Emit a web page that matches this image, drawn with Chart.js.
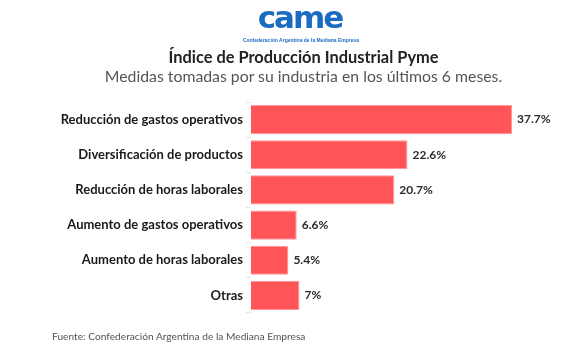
<!DOCTYPE html>
<html>
<head>
<meta charset="utf-8">
<script src="https://cdn.jsdelivr.net/npm/chart.js@4.4.0/dist/chart.umd.min.js"></script>
<style>
  html, body { margin: 0; padding: 0; background: #fff; }
  #wrap { position: relative; width: 587px; height: 356px; }
  #logo { position: absolute; left: 0; width: 600px; top: -2px; text-align: center;
          font-family: "DejaVu Sans", sans-serif; font-weight: bold; font-size: 31px;
          color: #1b6cc1; letter-spacing: -2px; line-height: 38px; }
  #logoSub { position: absolute; left: 0; width: 602px; top: 37px; text-align: center;
          font-family: "Liberation Sans", sans-serif; font-weight: bold; font-size: 5px; color: #1b6cc1; }
  .t { position: absolute; left: 0; width: 607px; text-align: center; font-family: Lato, sans-serif; white-space: nowrap; }
  #title { top: 47px; font-size: 16.4px; font-weight: bold; color: #222; line-height: 20px; }
  #subtitle { top: 66px; font-size: 15.8px; color: #555; line-height: 20px; }
  #foot { position: absolute; left: 52px; top: 330px; font-family: Lato, sans-serif;
          font-size: 10.2px; color: #555; }
  canvas { position: absolute; left: 0; top: 0; }
</style>
</head>
<body>
<div id="wrap">
  <canvas id="c" width="587" height="356"></canvas>
  <div id="logo">came</div>
  <div id="logoSub">Confederación Argentina de la Mediana Empresa</div>
  <div class="t" id="title">Índice de Producción Industrial Pyme</div>
  <div class="t" id="subtitle">Medidas tomadas por su industria en los últimos 6 meses.</div>
  <div id="foot">Fuente: Confederación Argentina de la Mediana Empresa</div>
</div>
<script>
const categories = [
  "Reducción de gastos operativos",
  "Diversificación de productos",
  "Reducción de horas laborales",
  "Aumento de gastos operativos",
  "Aumento de horas laborales",
  "Otras"
];
const values = [37.7, 22.6, 20.7, 6.6, 5.4, 7];
const valueLabels = ["37.7%", "22.6%", "20.7%", "6.6%", "5.4%", "7%"];

const valueLabelPlugin = {
  id: 'valueLabels',
  afterDatasetsDraw(chart) {
    const ctx = chart.ctx;
    const meta = chart.getDatasetMeta(0);
    ctx.save();
    ctx.font = "bold 12px Lato, sans-serif";
    ctx.fillStyle = "#2a2a2a";
    ctx.textAlign = "left";
    ctx.textBaseline = "middle";
    meta.data.forEach((bar, i) => {
      ctx.fillText(valueLabels[i], bar.x + 5, bar.y);
    });
    ctx.restore();
  }
};

new Chart(document.getElementById('c'), {
  type: 'bar',
  data: {
    labels: categories,
    datasets: [{
      data: values,
      backgroundColor: 'rgb(255,85,88)',
      borderColor: 'rgb(255,150,152)',
      borderWidth: 1,
      categoryPercentage: 1,
      barPercentage: 0.83
    }]
  },
  options: {
    indexAxis: 'y',
    responsive: false,
    animation: false,
    layout: { padding: { top: 102, right: 59, bottom: 43, left: 0 } },
    plugins: {
      legend: { display: false },
      tooltip: { enabled: false }
    },
    scales: {
      x: { display: false, min: 0, max: 40 },
      y: {
        afterFit(scale) { scale.width = 251; },
        border: { display: false },
        grid: { drawOnChartArea: false, drawTicks: true, tickLength: 5, color: '#e6e6e6' },
        ticks: {
          color: '#1a1a1a',
          padding: 3,
          font: { family: 'Lato, sans-serif', size: 13, weight: 'bold' }
        }
      }
    }
  },
  plugins: [valueLabelPlugin]
});
</script>
</body>
</html>
